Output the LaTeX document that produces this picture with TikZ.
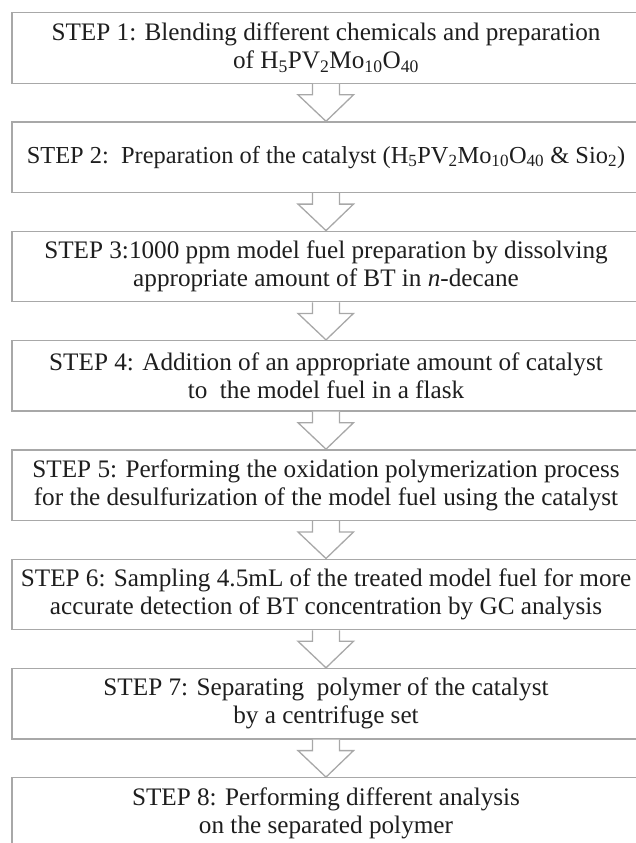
\documentclass[tikz,border=0pt]{standalone}
\usepackage{fontspec}
\setmainfont{Liberation Serif}
\usetikzlibrary{calc}
\definecolor{boxgray}{RGB}{168,168,168}
\definecolor{txt}{RGB}{30,30,30}
\tikzset{
  stepbox/.style={draw=boxgray, line width=1.3pt, minimum width=628pt, minimum height=70.5pt,
    align=center, inner sep=0pt, anchor=north, text=txt,
    font=\fontsize{25.2}{28}\selectfont},
  flowarrow/.style={draw=boxgray, line width=1.3pt, fill=white, line join=miter}
}
\newcommand\flowarr[2]{%
  \draw[flowarrow] ($(#1.south)+(-13.5,0)$) -- ++(0,11) -- ++(-14.5,0) -- (#2.north)
    -- ($(#1.south)+(27.5,11)$) -- ++(-14,0) -- ++(0,-11);}
\begin{document}
\begin{tikzpicture}[x=1pt,y=-1pt]
\useasboundingbox (0,0) rectangle (636,843);
\clip (0,0) rectangle (636,843);
\node[stepbox] (s1) at (326,12) {STEP 1: Blending different chemicals and preparation\\ of H\textsubscript{5}PV\textsubscript{2}Mo\textsubscript{10}O\textsubscript{40}};
\node[stepbox, font=\fontsize{24.4}{28}\selectfont] (s2) at (326,121.3) {STEP 2:\ \ Preparation of the catalyst (H\textsubscript{5}PV\textsubscript{2}Mo\textsubscript{10}O\textsubscript{40} \& Sio\textsubscript{2})};
\node[stepbox] (s3) at (326,230.6) {STEP 3:1000 ppm model fuel preparation by dissolving\\ appropriate amount of BT in \textit{n}-decane};
\node[stepbox] (s4) at (326,339.9) {STEP 4: Addition of an appropriate amount of catalyst\\ to\ \ the model fuel in a flask};
\node[stepbox] (s5) at (326,449.2) {STEP 5: Performing the oxidation polymerization process\\ for the desulfurization of the model fuel using the catalyst};
\node[stepbox] (s6) at (326,558.5) {STEP 6: Sampling 4.5mL of the treated model fuel for more\\ accurate detection of BT concentration by GC analysis};
\node[stepbox] (s7) at (326,667.8) {STEP 7: Separating\ \ polymer of the catalyst\\ by a centrifuge set};
\node[stepbox] (s8) at (326,777.1) {STEP 8: Performing different analysis\\ on the separated polymer};
\flowarr{s1}{s2}
\flowarr{s2}{s3}
\flowarr{s3}{s4}
\flowarr{s4}{s5}
\flowarr{s5}{s6}
\flowarr{s6}{s7}
\flowarr{s7}{s8}
\end{tikzpicture}
\end{document}
